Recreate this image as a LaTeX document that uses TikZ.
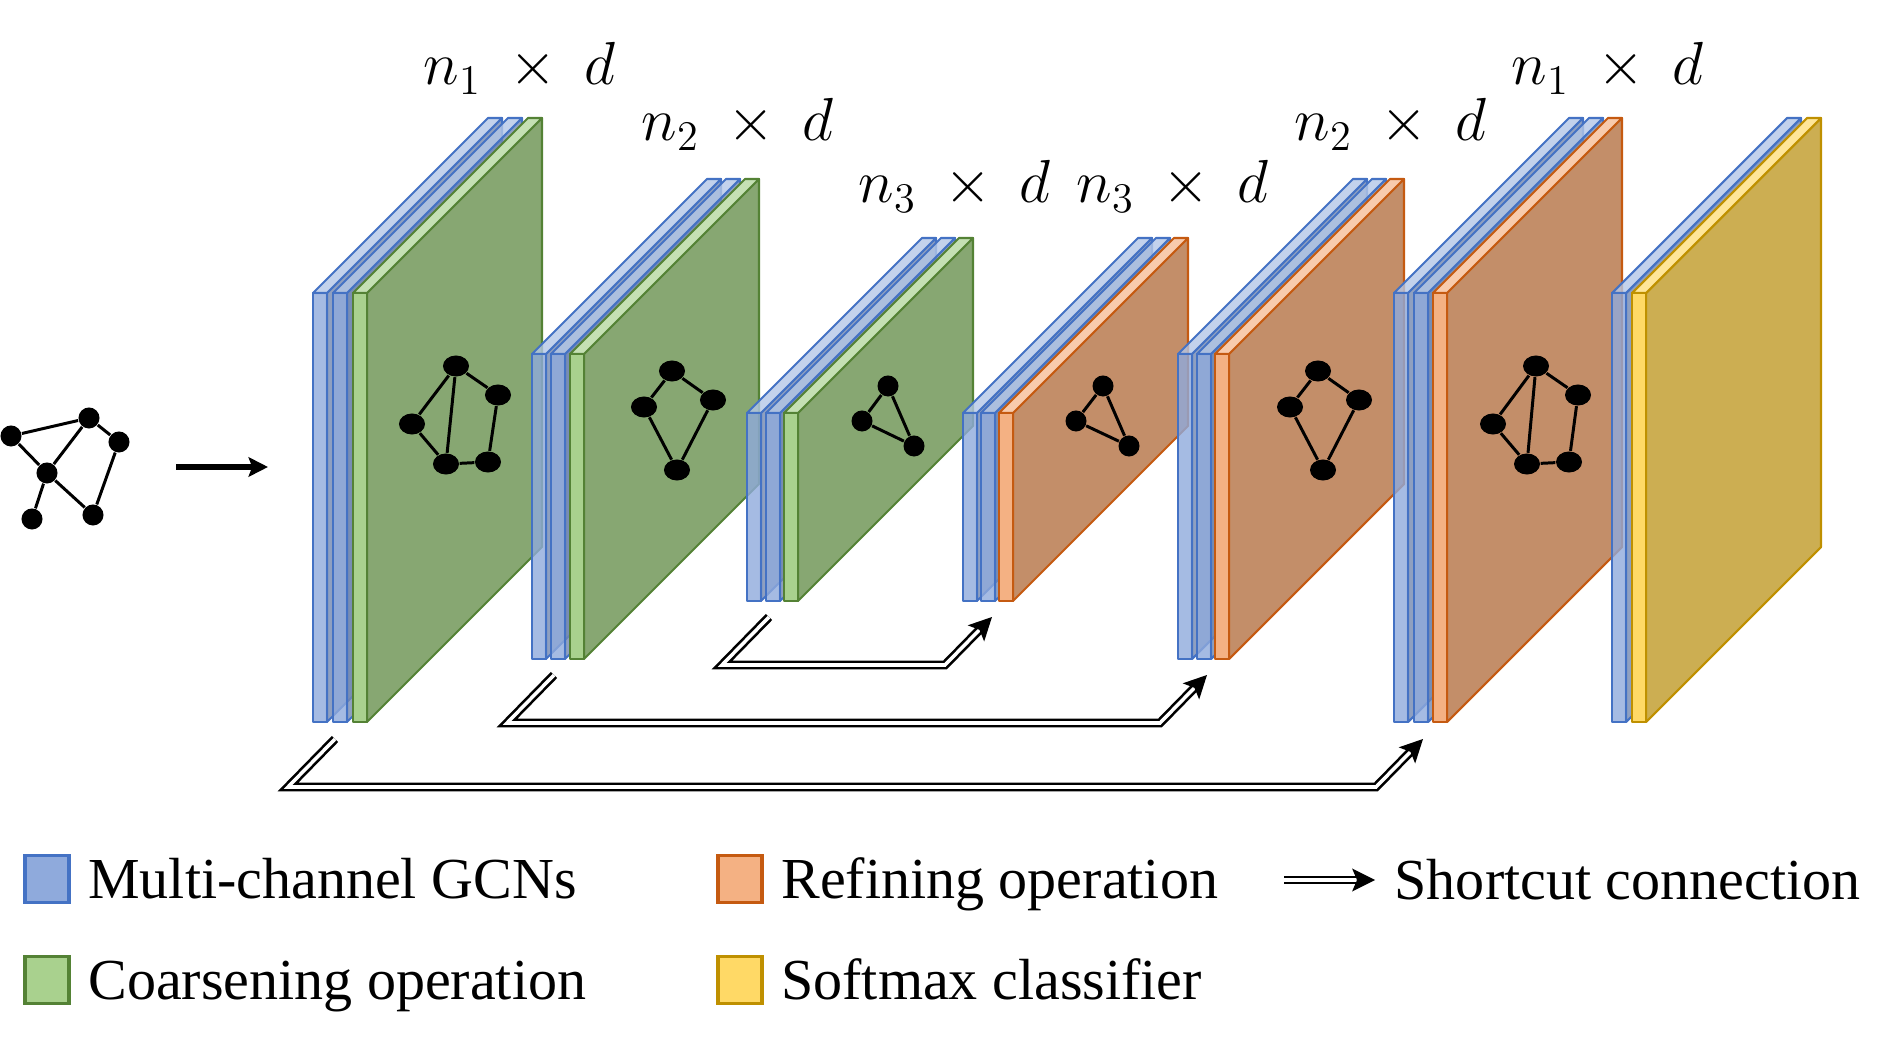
\documentclass[tikz,border=0pt]{standalone}
\usepackage[no-math]{fontspec}
\setmainfont{Liberation Serif}
\usepackage{tikz}
\usetikzlibrary{shapes.geometric, arrows.meta, positioning, calc}
\tikzstyle{shortcut} = [double, double distance=1pt, line width=0.75pt, shorten >=3pt]
\tikzstyle{shorttip} = [line width=0.4pt, -{Stealth[length=6.5pt,width=6.5pt,inset=1.4pt]}]
\tikzstyle{inarrow} = [line width=1.6pt, -{Stealth[length=5.5pt,width=5.5pt,inset=1pt]}]

\definecolor{blueFront}{HTML}{8FAADC}
\definecolor{blueSide}{HTML}{7388B0}
\definecolor{blueTop}{HTML}{B4C7E7}
\definecolor{blueLine}{HTML}{4472C4}
\definecolor{greenFront}{HTML}{A9D18E}
\definecolor{greenSide}{HTML}{87A772}
\definecolor{greenTop}{HTML}{C5E0B4}
\definecolor{greenLine}{HTML}{548235}
\definecolor{orangeFront}{HTML}{F4B183}
\definecolor{orangeSide}{HTML}{C38E69}
\definecolor{orangeTop}{HTML}{F8CBAD}
\definecolor{orangeLine}{HTML}{C55A11}
\definecolor{yellowFront}{HTML}{FFD966}
\definecolor{yellowSide}{HTML}{CCAE52}
\definecolor{yellowTop}{HTML}{FFE699}
\definecolor{yellowLine}{HTML}{BF9000}

% one layer: #2 left x, #3 top y, #4 bottom y, #5 colour set, #1 opacity
\newcommand{\featslab}[5][1]{%
  \begin{scope}[draw=#5Line, line width=0.6pt, line join=round, fill opacity=#1]
    \filldraw[fill=#5Side] (#2+14,#3) -- ++(175,-175) -- (#2+189,#4-175) -- (#2+14,#4) -- cycle;
    \filldraw[fill=#5Top] (#2,#3) -- ++(175,-175) -- ++(14,0) -- (#2+14,#3) -- cycle;
    \filldraw[fill=#5Front] (#2,#3) rectangle (#2+14,#4);
  \end{scope}}

\begin{document}
\begin{tikzpicture}[x=0.01cm, y=-0.01cm, font=\fontsize{16.5}{20}\selectfont]
   \tikzset{vtx/.style={circle, fill=black, inner sep=0pt, minimum size=0.21cm},
   vtxe/.style={ellipse, fill=black, inner sep=0pt, minimum width=0.26cm, minimum height=0.21cm},
   gedge/.style={line width=0.85pt},
   dimlab/.style={anchor=base west, inner sep=0pt},
   legbox/.style={draw, line width=0.9pt, minimum width=0.44cm, minimum height=0.47cm, inner sep=0pt},
   legtext/.style={inner sep=0pt, text height=0.42cm, text depth=0.04cm}
   }
 \useasboundingbox (0,0) rectangle (1896,1055);

 % input graph
 \node [vtx] (g1) at (11,436) {};
 \node [vtx] (g2) at (89,418) {};
 \node [vtx] (g3) at (119,442) {};
 \node [vtx] (g4) at (47,473) {};
 \node [vtx] (g5) at (32,519) {};
 \node [vtx] (g6) at (93,515) {};
 \draw [gedge] (g1) -- (g2);
 \draw [gedge] (g1) -- (g4);
 \draw [gedge] (g2) -- (g4);
 \draw [gedge] (g2) -- (g3);
 \draw [gedge] (g3) -- (g6);
 \draw [gedge] (g4) -- (g6);
 \draw [gedge] (g4) -- (g5);

 \coordinate (inA) at (176,467);
 \coordinate (inB) at (268,467);
 \draw [inarrow] (inA) -- (inB);

 % coarsening stack
 \featslab[0.8]{313}{293}{722}{blue}
 \featslab[0.8]{333}{293}{722}{blue}
 \featslab{353}{293}{722}{green}
 \node [vtxe] (a1) at (456,366) {};
 \node [vtxe] (a2) at (498,395) {};
 \node [vtxe] (a3) at (412,424) {};
 \node [vtxe] (a4) at (446,464) {};
 \node [vtxe] (a5) at (488,462) {};
 \draw [gedge] (a1) -- (a2);
 \draw [gedge] (a1) -- (a3);
 \draw [gedge] (a1) -- (a4);
 \draw [gedge] (a3) -- (a4);
 \draw [gedge] (a4) -- (a5);
 \draw [gedge] (a5) -- (a2);

 \featslab[0.8]{532}{354}{659}{blue}
 \featslab[0.8]{551}{354}{659}{blue}
 \featslab{570}{354}{659}{green}
 \node [vtxe] (b1) at (672,371) {};
 \node [vtxe] (b2) at (713,400) {};
 \node [vtxe] (b3) at (644,407) {};
 \node [vtxe] (b4) at (677,470) {};
 \draw [gedge] (b1) -- (b2);
 \draw [gedge] (b1) -- (b3);
 \draw [gedge] (b3) -- (b4);
 \draw [gedge] (b2) -- (b4);

 \featslab[0.8]{747}{413}{601}{blue}
 \featslab[0.8]{766}{413}{601}{blue}
 \featslab{784}{413}{601}{green}
 \node [vtx] (c1) at (888,386) {};
 \node [vtx] (c2) at (862,421) {};
 \node [vtx] (c3) at (914,446) {};
 \draw [gedge] (c1) -- (c2);
 \draw [gedge] (c2) -- (c3);
 \draw [gedge] (c1) -- (c3);

 % refining stack
 \featslab[0.8]{963}{413}{601}{blue}
 \featslab[0.8]{981}{413}{601}{blue}
 \featslab{999}{413}{601}{orange}
 \node [vtx] (d1) at (1103,386) {};
 \node [vtx] (d2) at (1076,421) {};
 \node [vtx] (d3) at (1129,446) {};
 \draw [gedge] (d1) -- (d2);
 \draw [gedge] (d2) -- (d3);
 \draw [gedge] (d1) -- (d3);

 \featslab[0.8]{1178}{354}{659}{blue}
 \featslab[0.8]{1197}{354}{659}{blue}
 \featslab{1215}{354}{659}{orange}
 \node [vtxe] (e1) at (1318,371) {};
 \node [vtxe] (e2) at (1359,400) {};
 \node [vtxe] (e3) at (1290,407) {};
 \node [vtxe] (e4) at (1323,470) {};
 \draw [gedge] (e1) -- (e2);
 \draw [gedge] (e1) -- (e3);
 \draw [gedge] (e3) -- (e4);
 \draw [gedge] (e2) -- (e4);

 \featslab[0.8]{1394}{293}{722}{blue}
 \featslab[0.8]{1414}{293}{722}{blue}
 \featslab{1433}{293}{722}{orange}
 \node [vtxe] (f1) at (1536,366) {};
 \node [vtxe] (f2) at (1578,395) {};
 \node [vtxe] (f3) at (1493,424) {};
 \node [vtxe] (f4) at (1527,464) {};
 \node [vtxe] (f5) at (1569,462) {};
 \draw [gedge] (f1) -- (f2);
 \draw [gedge] (f1) -- (f3);
 \draw [gedge] (f1) -- (f4);
 \draw [gedge] (f3) -- (f4);
 \draw [gedge] (f4) -- (f5);
 \draw [gedge] (f5) -- (f2);

 % classifier
 \featslab[0.8]{1612}{293}{722}{blue}
 \featslab{1632}{293}{722}{yellow}

 % sizes
 \node [dimlab] (lab1) at (423,85) {$n_1~\times~d$};
 \node [dimlab] (lab2) at (641,141) {$n_2~\times~d$};
 \node [dimlab] (lab3) at (858,203) {$n_3~\times~d$};
 \node [dimlab] (lab4) at (1076,203) {$n_3~\times~d$};
 \node [dimlab] (lab5) at (1294,141) {$n_2~\times~d$};
 \node [dimlab] (lab6) at (1511,85) {$n_1~\times~d$};

 % shortcuts
 \coordinate (s1a) at (769,617);
 \coordinate (s1b) at (722,665);
 \coordinate (s1c) at (945,665);
 \coordinate (s1d) at (992,617);
 \draw [shortcut] (s1a) -- (s1b) -- (s1c) -- (s1d);
 \draw [shorttip] ($(s1d)!0.2!(s1c)$) -- (s1d);
 \coordinate (s2a) at (554,675);
 \coordinate (s2b) at (507,723);
 \coordinate (s2c) at (1160,723);
 \coordinate (s2d) at (1207,675);
 \draw [shortcut] (s2a) -- (s2b) -- (s2c) -- (s2d);
 \draw [shorttip] ($(s2d)!0.2!(s2c)$) -- (s2d);
 \coordinate (s3a) at (335,739);
 \coordinate (s3b) at (288,787);
 \coordinate (s3c) at (1376,787);
 \coordinate (s3d) at (1423,739);
 \draw [shortcut] (s3a) -- (s3b) -- (s3c) -- (s3d);
 \draw [shorttip] ($(s3d)!0.2!(s3c)$) -- (s3d);

 % legend
 \node [legbox, fill=blueFront, draw=blueLine] (lgBlue) at (47,879) {};
 \node [legtext, right=0.17cm of lgBlue] (txBlue) {Multi-channel GCNs};
 \node [legbox, fill=greenFront, draw=greenLine] (lgGreen) at (47,980) {};
 \node [legtext, right=0.17cm of lgGreen] (txGreen) {Coarsening operation};
 \node [legbox, fill=orangeFront, draw=orangeLine] (lgOrange) at (740,879) {};
 \node [legtext, right=0.17cm of lgOrange] (txOrange) {Refining operation};
 \node [legbox, fill=yellowFront, draw=yellowLine] (lgYellow) at (740,980) {};
 \node [legtext, right=0.17cm of lgYellow] (txYellow) {Softmax classifier};
 \coordinate (lgArrA) at (1284,880);
 \coordinate (lgArrB) at (1375,880);
 \draw [shortcut] (lgArrA) -- (lgArrB);
 \draw [shorttip] ($(lgArrB)!0.2!(lgArrA)$) -- (lgArrB);
 \node [legtext, right=0.19cm of lgArrB] (txArrow) {Shortcut connection};
\end{tikzpicture}
\end{document}
